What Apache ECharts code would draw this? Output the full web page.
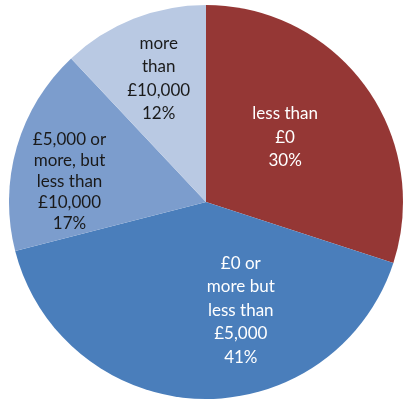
<!DOCTYPE html>
<html>
<head>
<meta charset="utf-8">
<script src="https://cdn.jsdelivr.net/npm/echarts@6/dist/echarts.min.js"></script>
<style>
  html, body { margin: 0; padding: 0; background: #fff; }
  #chart { width: 412px; height: 405px; }
</style>
</head>
<body>
<div id="chart"></div>
<script>
const categories = [
  'less than\n£0',
  '£0 or\nmore but\nless than\n£5,000',
  '£5,000 or\nmore, but\nless than\n£10,000',
  'more\nthan\n£10,000'
];
const shares = [30, 41, 17, 12];

const sliceColors = ['#953735', '#4a7ebb', '#7c9dcd', '#b9c9e3'];
const labelColors = ['#ffffff', '#ffffff', '#1a1a1a', '#1a1a1a'];
const labelLineHeights = [23.5, 23.5, 21, 23.5];
// nudge labels to where the original sits them inside each slice
const labelShift = [[-3, -5], [38, 7], [-39, 8], [-10, -29]];

const chart = echarts.init(document.getElementById('chart'));

chart.setOption({
  animation: false,
  series: [
    {
      type: 'pie',
      center: [206, 202],
      radius: [0, 197],
      startAngle: 90,
      clockwise: true,
      label: {
        show: true,
        position: 'inside',
        formatter: (p) => `${p.name}\n${p.value}%`,
        fontFamily: 'Lato, "Open Sans", sans-serif',
        fontSize: 17,
        align: 'center'
      },
      labelLine: { show: false },
      labelLayout: (params) => ({
        dx: labelShift[params.dataIndex][0],
        dy: labelShift[params.dataIndex][1]
      }),
      itemStyle: { borderWidth: 0 },
      emphasis: { disabled: true },
      data: categories.map((name, i) => ({
        name,
        value: shares[i],
        itemStyle: { color: sliceColors[i] },
        label: { color: labelColors[i], lineHeight: labelLineHeights[i] }
      }))
    }
  ]
});
</script>
</body>
</html>
